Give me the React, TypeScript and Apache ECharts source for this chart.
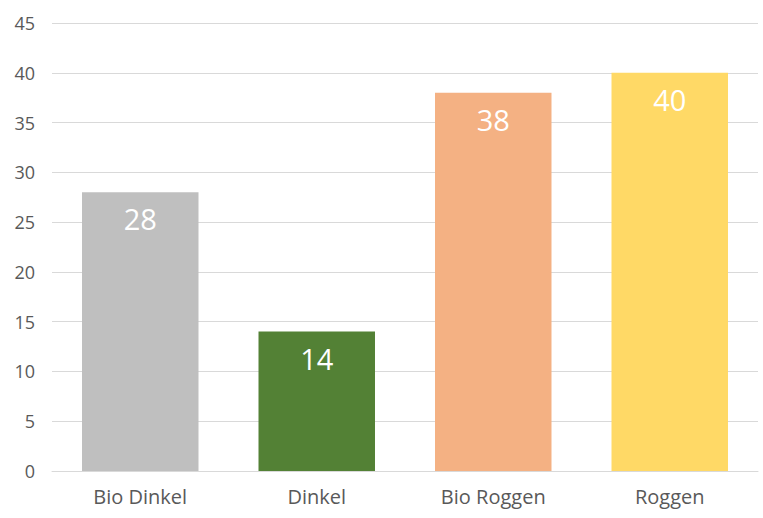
import React, { useEffect, useRef } from "react";
import * as echarts from "echarts";

const categories = ["Bio Dinkel", "Dinkel", "Bio Roggen", "Roggen"];
const values = [28, 14, 38, 40];
const barColors = ["#BFBFBF", "#538135", "#F4B183", "#FFD966"];

export default function App() {
  const ref = useRef<HTMLDivElement>(null);
  useEffect(() => {
    document.body.style.margin = "0";
    const chart = echarts.init(ref.current!, null, { renderer: "svg" });
    chart.setOption({
      animation: false,
      backgroundColor: "#ffffff",
      grid: { left: 52, right: 5, top: 23, bottom: 47 },
      xAxis: {
        type: "category",
        data: categories,
        axisTick: { show: false },
        axisLine: { lineStyle: { color: "#D9D9D9", width: 1 } },
        axisLabel: { color: "#595959", fontSize: 20, fontFamily: "Open Sans", margin: 15 },
      },
      yAxis: {
        type: "value",
        min: 0,
        max: 45,
        interval: 5,
        axisLine: { show: false },
        axisTick: { show: false },
        splitLine: { lineStyle: { color: "#D9D9D9", width: 1 } },
        axisLabel: { color: "#595959", fontSize: 18, fontFamily: "Open Sans", margin: 17 },
      },
      series: [
        {
          type: "bar",
          barCategoryGap: "34%",
          data: values.map((v, i) => ({ value: v, itemStyle: { color: barColors[i] } })),
          label: {
            show: true,
            position: "insideTop",
            distance: 12,
            color: "#ffffff",
            fontSize: 29,
            fontFamily: "Open Sans",
          },
        },
      ],
    });
    return () => chart.dispose();
  }, []);
  return <div ref={ref} style={{ width: 763, height: 518 }} />;
}
